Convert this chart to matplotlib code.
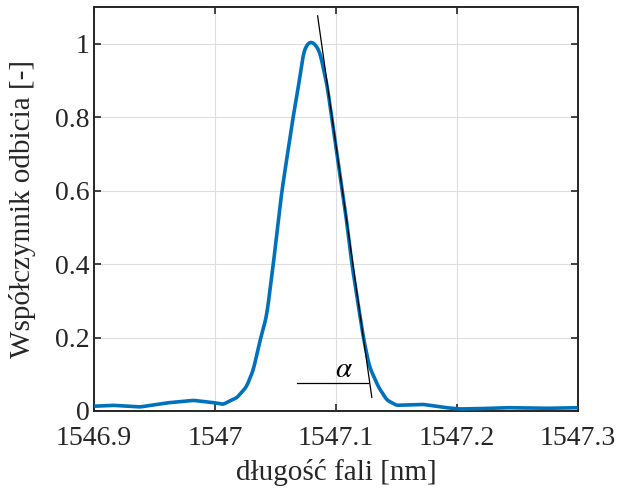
import numpy as np
from matplotlib import pyplot as plt

plt.rcParams['font.family'] = ['Liberation Serif', 'DejaVu Serif']
plt.rcParams['mathtext.fontset'] = 'stix'

# spectrum
wavelength = [1546.9, 1546.916, 1546.938, 1546.960, 1546.982, 1546.9986, 1547.0068,
              1547.0138, 1547.018, 1547.026, 1547.0316, 1547.0378, 1547.0426, 1547.0482,
              1547.0551, 1547.0642, 1547.070, 1547.073, 1547.0765, 1547.080, 1547.0835,
              1547.0868, 1547.0928, 1547.1006, 1547.1083, 1547.113, 1547.1226,
              1547.1276, 1547.135, 1547.142, 1547.150, 1547.172, 1547.191,
              1547.202, 1547.2188, 1547.2408, 1547.2738, 1547.3]
reflect = [0.013, 0.0155, 0.011, 0.022, 0.029, 0.023, 0.018,
           0.03, 0.036, 0.066, 0.111, 0.2, 0.257, 0.4,
           0.595, 0.793, 0.905, 0.975, 1.0, 1.005, 0.995,
           0.975, 0.884, 0.702, 0.53, 0.403, 0.2,
           0.121, 0.066, 0.03, 0.0155, 0.018, 0.009,
           0.0055, 0.0064, 0.009, 0.0073, 0.009]

# slope line and horizontal reference for the angle
tangent_x = [1547.0848, 1547.1296]
tangent_y = [1.076, 0.037]
horiz_x = [1547.0675, 1547.1267]
horiz_y = [0.0754, 0.0754]

xticks = [1546.9, 1547.0, 1547.1, 1547.2, 1547.3]
xticklabels = ['1546.9', '1547', '1547.1', '1547.2', '1547.3']
yticks = [0, 0.2, 0.4, 0.6, 0.8, 1.0]
yticklabels = ['0', '0.2', '0.4', '0.6', '0.8', '1']

fig = plt.figure(figsize=(6.25, 4.9), dpi=100)
ax = fig.add_axes([94/625, 1 - 411/490, 484/625, 404/490])

# light smoothing between the read points
xs = np.linspace(wavelength[0], wavelength[-1], 800)
ys = np.interp(xs, wavelength, reflect)
k = np.ones(7) / 7
ys = np.convolve(np.pad(ys, 3, mode='edge'), k, mode='valid')

ax.plot(xs, ys, color=(0, 114/255, 189/255), lw=2.6, zorder=3)
ax.plot(tangent_x, tangent_y, color='black', lw=0.9, zorder=4)
ax.plot(horiz_x, horiz_y, color='black', lw=0.9, zorder=4)
ax.text(1547.1062, 0.112, r'$\alpha$', fontsize=21, ha='center', va='center')

ax.set_xlim(1546.9, 1547.3)
ax.set_ylim(0, 1.1)
ax.set_xticks(xticks)
ax.set_xticklabels(xticklabels)
ax.set_yticks(yticks)
ax.set_yticklabels(yticklabels)
ax.grid(True, color='#dedede', lw=0.8)
ax.tick_params(direction='in', top=True, right=True, length=5, width=1.2,
               labelsize=20, colors='#262626')
ax.tick_params(axis='x', pad=11)
ax.tick_params(axis='y', pad=3)
for s in ax.spines.values():
    s.set_linewidth(1.4)
    s.set_color('#262626')
ax.set_xlabel('długość fali [nm]', fontsize=21, color='#262626', va='center')
ax.xaxis.set_label_coords(0.5, -(473 - 411) / 404)
ax.set_ylabel('Współczynnik odbicia [-]', fontsize=21, color='#262626', va='center')
ax.yaxis.set_label_coords(-(94 - 23) / 484, 0.5)

fig.savefig('out.png', dpi=100)
